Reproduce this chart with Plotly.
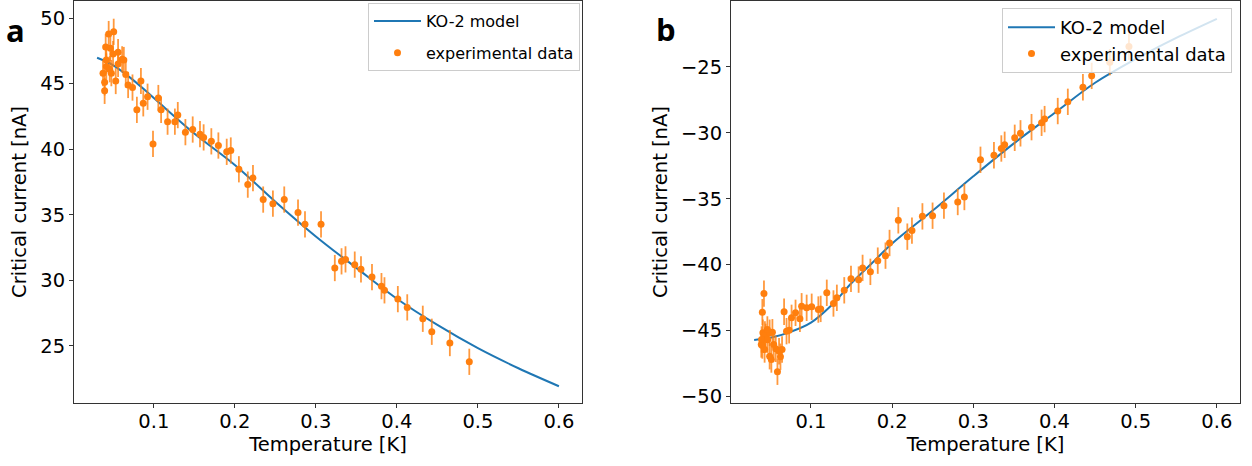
import plotly.graph_objects as go

# ---------------- data ----------------
# panel a: experimental data
temp_a = [0.0505, 0.0443, 0.0406, 0.0464, 0.0559, 0.0497, 0.0609, 0.0630, 0.0414, 0.0559,
          0.0414, 0.0456, 0.0373, 0.0476, 0.0654, 0.0530, 0.0393, 0.0841, 0.0683, 0.0737,
          0.0393, 0.0923, 0.1056, 0.1090, 0.0870, 0.0791, 0.1170, 0.1260, 0.1296, 0.1390,
          0.1480, 0.1570, 0.1615, 0.0990, 0.1710, 0.1797, 0.1900, 0.1950, 0.2050, 0.2160,
          0.2224, 0.2350, 0.2470, 0.2610, 0.2780, 0.2866, 0.3064, 0.3234, 0.3317, 0.3366,
          0.3480, 0.3557, 0.3693, 0.3810, 0.3847, 0.4012, 0.4128, 0.4320, 0.4431, 0.4654,
          0.4894]
curr_a = [48.95, 48.78, 47.80, 47.70, 47.40, 47.25, 46.85, 46.80, 46.80, 46.50,
          46.30, 46.10, 45.80, 45.80, 45.70, 45.20, 45.10, 45.20, 44.90, 44.70,
          44.45, 44.00, 43.90, 43.00, 43.50, 43.00, 42.10, 42.10, 42.60, 41.30,
          41.50, 41.15, 40.90, 40.40, 40.60, 40.28, 39.80, 39.90, 38.47, 37.30,
          37.80, 36.16, 35.85, 36.16, 35.17, 34.27, 34.27, 30.94, 31.45, 31.60,
          31.20, 30.84, 30.25, 29.56, 29.24, 28.57, 27.94, 27.07, 26.08, 25.22,
          23.79]
# panel a: KO-2 model curve
model_temp_a = [0.03, 0.05, 0.075, 0.10, 0.15, 0.20, 0.25, 0.30, 0.35, 0.40, 0.45, 0.50, 0.55, 0.60]
model_curr_a = [46.97, 46.40, 45.25, 43.90, 41.20, 38.80, 36.00, 33.35, 30.95, 28.60, 26.60, 24.83, 23.30, 21.93]

# panel b: experimental data
temp_b = [0.0421, 0.0401, 0.0669, 0.0761, 0.0810, 0.0864, 0.0885, 0.0947, 0.1009, 0.1091,
          0.1120, 0.1195, 0.1277, 0.1319, 0.1410, 0.1493, 0.1587, 0.0731, 0.0699, 0.0408,
          0.0442, 0.0401, 0.0525, 0.0541, 0.0491, 0.0512, 0.0566, 0.0607, 0.0624, 0.0644,
          0.0587, 0.0429, 0.0388, 0.0433, 0.0491, 0.0463, 0.0392, 0.0466,
          0.1636, 0.1732, 0.1823, 0.1918, 0.1968, 0.2076, 0.2187, 0.2244, 0.2373, 0.2498,
          0.2638, 0.2808, 0.2890, 0.3088, 0.3254, 0.3345, 0.3386, 0.3510, 0.3581, 0.3717,
          0.3841, 0.3878, 0.4040, 0.4164, 0.4350, 0.4458, 0.4681, 0.4917]
curr_b = [-42.20, -43.61, -43.58, -44.04, -43.66, -44.11, -43.16, -43.28, -43.20, -43.41,
          -43.36, -42.14, -42.95, -42.52, -41.95, -41.08, -41.14, -44.98, -45.05, -45.17,
          -45.48, -46.14, -45.13, -46.06, -46.95, -47.20, -46.39, -46.57, -46.99, -46.44,
          -48.13, -46.44, -46.06, -45.30, -45.17, -44.92, -45.68, -45.70,
          -40.25, -40.55, -39.70, -39.32, -38.36, -36.64, -37.88, -37.42, -36.34, -36.29,
          -35.53, -35.25, -34.87, -32.05, -31.70, -31.19, -30.91, -30.38, -30.04, -29.57,
          -29.24, -28.96, -28.35, -27.65, -26.54, -25.68, -24.64, -23.46]
# panel b: KO-2 model curve
model_temp_b = [0.03, 0.05, 0.075, 0.10, 0.125, 0.15, 0.175, 0.20, 0.25, 0.30, 0.35, 0.40, 0.45, 0.50, 0.55, 0.60]
model_curr_b = [-45.72, -45.55, -45.10, -44.40, -43.10, -41.40, -39.90, -38.40, -35.90, -33.30,
                -30.80, -28.50, -26.20, -24.40, -22.80, -21.35]

error_size = 1.0  # symmetric error bar half-height [nA]

x_ticks = [0.1, 0.2, 0.3, 0.4, 0.5, 0.6]
y_ticks_a = [25, 30, 35, 40, 45, 50]
y_ticks_b = [-50, -45, -40, -35, -30, -25]

# ---------------- styling ----------------
BLUE = "#1f77b4"
ORANGE = "#ff7f0e"
ERR_COLOR = "rgba(255,127,14,0.8)"
FONT = "DejaVu Sans"
W, H = 1252, 466
TICK_SIZE = 19.5
TITLE_SIZE = 19.5

fig = go.Figure()

def add_panel(xa, ya, mt, mc, t, c, legend, tag):
    fig.add_trace(go.Scatter(
        x=mt, y=mc, mode="lines", name="KO-2 model",
        line=dict(color=BLUE, width=2, shape="spline"),
        xaxis=xa, yaxis=ya, legend=legend, legendgroup=tag + "model"))
    fig.add_trace(go.Scatter(
        x=t, y=c, mode="markers", name="experimental data",
        marker=dict(color=ORANGE, size=7),
        error_y=dict(type="constant", value=error_size, color=ERR_COLOR, thickness=1.8, width=0),
        xaxis=xa, yaxis=ya, legend=legend, legendgroup=tag + "data"))

add_panel("x", "y", model_temp_a, model_curr_a, temp_a, curr_a, "legend", "a")
add_panel("x2", "y2", model_temp_b, model_curr_b, temp_b, curr_b, "legend2", "b")

axis_common = dict(
    showgrid=False, zeroline=False, showline=True, linecolor="#333333", linewidth=1,
    mirror=True, ticks="outside", ticklen=4, tickwidth=1, tickcolor="#333333",
    tickfont=dict(family=FONT, size=TICK_SIZE, color="#000000"), automargin=False,
)

bottom = (H - 403) / H
top = (H - 1) / H

xtitle = dict(text="Temperature [K]", font=dict(family=FONT, size=TITLE_SIZE, color="#000000"), standoff=2)
ytitle = dict(text="Critical current [nA]", font=dict(family=FONT, size=TITLE_SIZE, color="#000000"), standoff=8)

legend_style = dict(yanchor="top", xanchor="right", itemwidth=47,
                    bgcolor="rgba(255,255,255,0.8)", bordercolor="#cccccc", borderwidth=1)

fig.update_layout(
    width=W, height=H,
    margin=dict(l=0, r=0, t=0, b=0),
    paper_bgcolor="white", plot_bgcolor="white",
    font=dict(family=FONT, size=18, color="#000000"),
    xaxis=dict(axis_common, domain=[74 / W, 582 / W], range=[0.0015, 0.6285],
               tickvals=x_ticks, tickformat=".1f", ticklabelstandoff=-3,
               title=xtitle, anchor="y"),
    yaxis=dict(axis_common, domain=[bottom, top], range=[20.65, 51.3],
               tickvals=y_ticks_a, title=ytitle, anchor="x"),
    xaxis2=dict(axis_common, domain=[731 / W, 1240 / W], range=[0.0015, 0.6285],
                tickvals=x_ticks, tickformat=".1f", ticklabelstandoff=-3,
                title=xtitle, anchor="y2"),
    yaxis2=dict(axis_common, domain=[bottom, top], range=[-50.5, -20.0],
                tickvals=y_ticks_b, title=ytitle, anchor="x2"),
    legend=dict(legend_style, x=580 / W, y=1 - 3 / H, tracegroupgap=8,
                font=dict(family=FONT, size=16, color="#000000")),
    legend2=dict(legend_style, x=1232 / W, y=1 - 8 / H, tracegroupgap=0,
                 font=dict(family=FONT, size=18, color="#000000")),
    showlegend=True,
    annotations=[
        dict(text="<b>a</b>", x=15 / W, y=1 - 30 / H, xref="paper", yref="paper",
             xanchor="center", yanchor="middle", showarrow=False,
             font=dict(family="Open Sans", size=31, color="black")),
        dict(text="<b>b</b>", x=666 / W, y=1 - 29 / H, xref="paper", yref="paper",
             xanchor="center", yanchor="middle", showarrow=False,
             font=dict(family="Open Sans", size=31, color="black")),
    ],
)

fig.write_html("out.html", config={"displayModeBar": False},
               post_script="document.body.style.margin='0';")
